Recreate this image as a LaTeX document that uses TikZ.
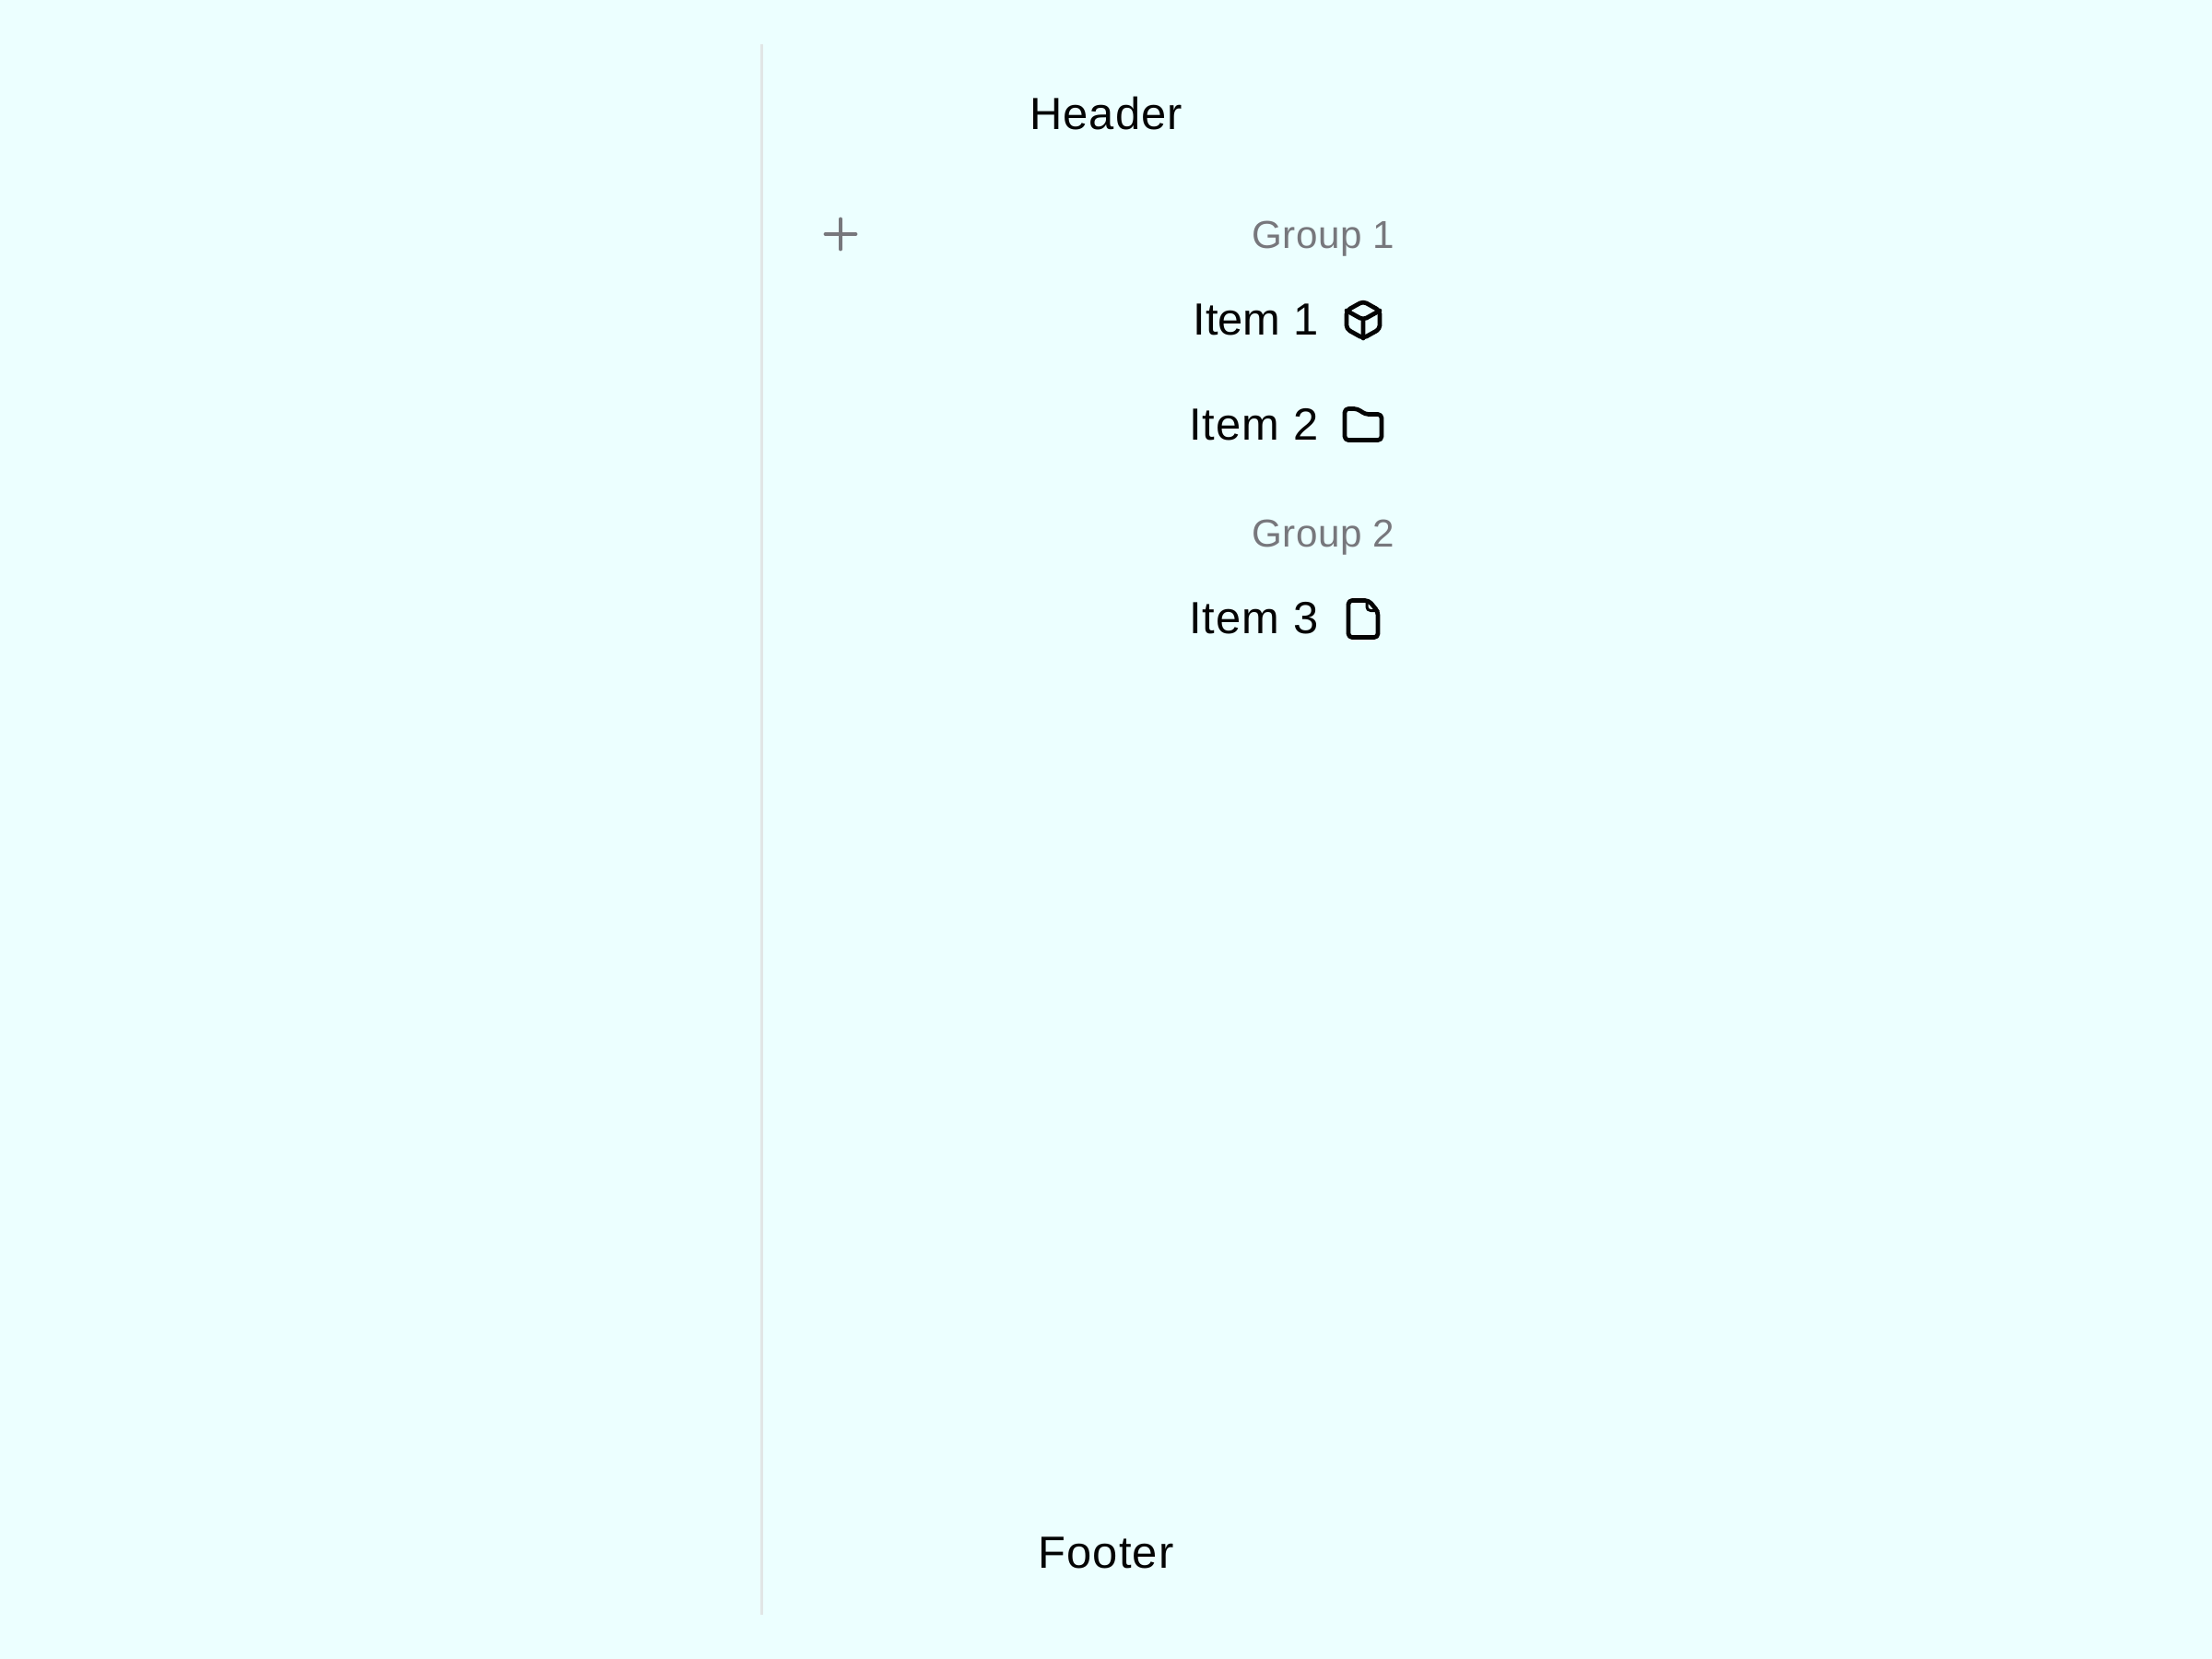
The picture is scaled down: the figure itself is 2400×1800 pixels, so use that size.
\documentclass[tikz,border=0pt]{standalone}
\usepackage{fontspec}
\setmainfont{Liberation Sans}
\usetikzlibrary{positioning}
\definecolor{panelbg}{HTML}{ECFFFF}
\definecolor{railgray}{HTML}{E1E6E6}
\definecolor{mutedgray}{HTML}{77777C}
\definecolor{inkblack}{HTML}{040404}
\tikzstyle{label}=[inner sep=0pt, text=inkblack, font=\fontsize{13.9}{16}\selectfont]
\tikzstyle{widelabel}=[label, font=\fontsize{13.9}{16}\selectfont\addfontfeature{LetterSpace=2.2}]
\tikzstyle{grouplabel}=[inner sep=0pt, text=mutedgray, font=\fontsize{12}{14}\selectfont\addfontfeature{LetterSpace=1}]
\tikzstyle{icon}=[draw=inkblack, line width=0.047cm, line join=round, line cap=round, rounded corners=0.04cm]

\begin{document}
\begin{tikzpicture}[x=0.01cm,y=-0.01cm]
	\fill[panelbg] (0,0) rectangle (2400,1800);
	\useasboundingbox (0,0) rectangle (2400,1800);
	\coordinate (railtop) at (826.5,48);
	\coordinate (railend) at (826.5,1752);
	\draw[railgray, line width=0.03cm] (railtop) -- (railend);
	\node[widelabel, anchor=base] (header) at (1200,141) {Header};
	\node[widelabel, anchor=base] (footer) at (1200,1701) {Footer};
	\node[grouplabel, anchor=base east] (group1) at (1514,269) {Group 1};
	\node[grouplabel, anchor=base east] (group2) at (1514,593) {Group 2};
	\node[label, anchor=base east] (item1) at (1431,363) {Item 1};
	\node[widelabel, anchor=base east] (item2) at (1431,477) {Item 2};
	\node[widelabel, anchor=base east] (item3) at (1431,687) {Item 3};
	% plus
	\coordinate (plustop) at (912,238);
	\coordinate (plusend) at (912,270);
	\coordinate (plusleft) at (896,254);
	\coordinate (plusright) at (928,254);
	\draw[mutedgray, line width=0.048cm, line cap=round] (plustop) -- (plusend) (plusleft) -- (plusright);
	% cube
	\begin{scope}[shift={(1479,347)}]
		\draw[icon] (0,-20) -- (18,-10) -- (18,10) -- (0,20) -- (-18,10) -- (-18,-10) -- cycle;
		\draw[icon] (-18,-10) -- (0,0) -- (18,-10) (0,0) -- (0,20);
	\end{scope}
	% folder
	\begin{scope}[shift={(1479,460.5)}]
		\draw[icon] (-20,-17) -- (-6,-17) -- (2,-11) -- (20,-11) -- (20,17) -- (-20,17) -- cycle;
	\end{scope}
	% file
	\begin{scope}[shift={(1479,671.5)}]
		\draw[icon] (-16,-20) -- (6,-20) -- (16,-8) -- (16,20) -- (-16,20) -- cycle;
		\draw[icon, line width=0.03cm] (4,-20) -- (4,-9) -- (16,-9);
	\end{scope}
\end{tikzpicture}
\end{document}
